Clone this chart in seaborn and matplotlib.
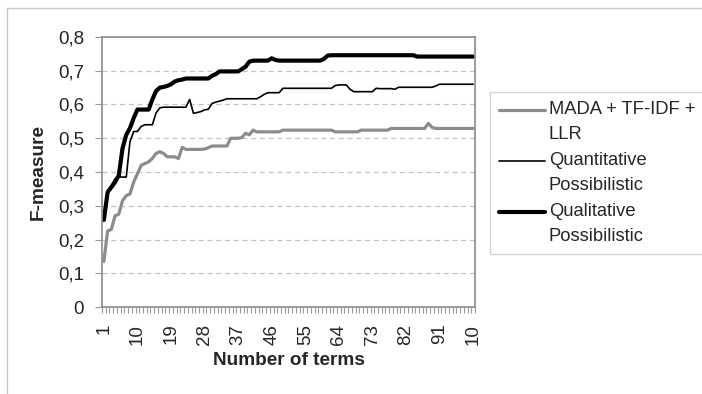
import pandas as pd
import matplotlib.pyplot as plt
import matplotlib.patches as patches
from matplotlib.ticker import FixedLocator
from matplotlib.legend_handler import HandlerLine2D
import seaborn as sns

# Data (F-measure vs number of terms, 1..100)
terms = list(range(1, 101))

mada = ([0.135, 0.225, 0.23, 0.27, 0.275, 0.315, 0.33, 0.335, 0.37, 0.395,
         0.42, 0.425, 0.43, 0.44, 0.455, 0.46, 0.455, 0.445, 0.445, 0.445,
         0.44, 0.473, 0.467, 0.467, 0.467, 0.467, 0.467, 0.468, 0.472]
        + [0.477] * 5 + [0.5] * 3 + [0.502, 0.515, 0.51, 0.524]
        + [0.519] * 7 + [0.524] * 14 + [0.519] * 7 + [0.524] * 8
        + [0.529] * 10 + [0.544, 0.532] + [0.529] * 11)

quanti = ([0.27, 0.34, 0.36, 0.38, 0.385, 0.385, 0.385, 0.49, 0.52, 0.52,
           0.535, 0.54, 0.54, 0.54, 0.575, 0.59]
          + [0.592] * 7 + [0.615, 0.574, 0.576, 0.579, 0.584, 0.586,
                           0.603, 0.607, 0.61, 0.613]
          + [0.617] * 9 + [0.623, 0.63, 0.635, 0.635, 0.635, 0.635]
          + [0.648] * 14 + [0.656, 0.658, 0.658, 0.658, 0.645]
          + [0.638] * 6 + [0.648, 0.647, 0.647, 0.647, 0.647, 0.645]
          + [0.651] * 10 + [0.655] + [0.66] * 10)

quali = ([0.258, 0.34, 0.355, 0.37, 0.39, 0.47, 0.51, 0.53, 0.56, 0.585,
          0.585, 0.585, 0.585, 0.615, 0.64, 0.65, 0.652, 0.655, 0.66, 0.668,
          0.672, 0.674]
         + [0.677] * 7 + [0.685, 0.69] + [0.698] * 6 + [0.705, 0.712, 0.727]
         + [0.73] * 5 + [0.737, 0.732] + [0.73] * 12 + [0.735, 0.745]
         + [0.746] * 23 + [0.742] * 16)

labels = ["MADA + TF-IDF +\nLLR", "Quantitative\nPossibilistic",
          "Qualitative\nPossibilistic"]
x_tick_pos = [1, 10, 19, 28, 37, 46, 55, 64, 73, 82, 91, 100]
x_tick_labels = ["1", "10", "19", "28", "37", "46", "55", "64", "73", "82", "91", "10"]
y_ticks = [0, 0.1, 0.2, 0.3, 0.4, 0.5, 0.6, 0.7, 0.8]
y_tick_labels = ["0", "0,1", "0,2", "0,3", "0,4", "0,5", "0,6", "0,7", "0,8"]

df = pd.DataFrame({"terms": terms, "mada": mada, "quanti": quanti, "quali": quali})


class FirstLineHandler(HandlerLine2D):
    # put the legend line next to the first line of a two-line label
    def create_artists(self, legend, orig_handle, xdescent, ydescent,
                       width, height, fontsize, trans):
        arts = super().create_artists(legend, orig_handle, xdescent, ydescent,
                                      width, height, fontsize, trans)
        for a in arts:
            a.set_ydata([y + 0.66 * fontsize for y in a.get_ydata()])
        return arts


sns.set_theme(style="white")
plt.rcParams["font.family"] = ["Liberation Sans", "DejaVu Sans"]

fig = plt.figure(figsize=(7.02, 3.94), dpi=100)
ax = fig.add_axes([0.1453, 0.2208, 0.5313, 0.6853])

sns.lineplot(data=df, x="terms", y="mada", ax=ax, color="#8c8c8c", lw=2.3, label=labels[0])
sns.lineplot(data=df, x="terms", y="quanti", ax=ax, color="black", lw=1.2, label=labels[1])
sns.lineplot(data=df, x="terms", y="quali", ax=ax, color="black", lw=3.0, label=labels[2])

ax.set_xlim(0.5, 100.5)
ax.set_ylim(0, 0.8)

for y in y_ticks[1:-1]:
    ax.axhline(y, color="#c4c4c4", lw=0.9, ls=(0, (4, 3)), zorder=0)

ax.set_yticks(y_ticks)
ax.set_yticklabels(y_tick_labels, fontsize=13.5)
ax.set_xticks(x_tick_pos)
ax.set_xticklabels(x_tick_labels, fontsize=13.5, rotation=90)
ax.xaxis.set_minor_locator(FixedLocator([i + 0.5 for i in range(0, 101)]))
ax.tick_params(axis="x", which="major", length=0, pad=12)
ax.tick_params(axis="x", which="minor", bottom=True, length=4, color="#999999", width=0.8)
ax.tick_params(axis="y", which="major", left=True, length=5, color="#999999", width=0.8, pad=8)

for s in ax.spines.values():
    s.set_color("#8a8a8a")
    s.set_linewidth(1.2)

ax.set_xlabel("Number of terms", fontsize=13.7, fontweight="bold", labelpad=5)
ax.set_ylabel("F-measure", fontsize=13.7, fontweight="bold", labelpad=8)

handles, _ = ax.get_legend_handles_labels()
leg = ax.legend(handles, labels, loc="upper left",
                bbox_to_anchor=(490 / 702, 1 - 92 / 394),
                bbox_transform=fig.transFigure, fontsize=13.2, frameon=True,
                fancybox=False, handlelength=2.5, handletextpad=0.2,
                borderpad=0.5, labelspacing=0.5, borderaxespad=0,
                handler_map={h: FirstLineHandler() for h in handles})
for t in leg.get_texts():
    t.set_linespacing(1.6)
leg.get_frame().set_edgecolor("#c8c8c8")
leg.get_frame().set_linewidth(1.0)

border = patches.Rectangle((7 / 702, -0.2), 1.2, 1.2 - 8 / 394, transform=fig.transFigure,
                           fill=False, edgecolor="#c8c8c8", lw=1.0, clip_on=False)
fig.patches.append(border)

fig.savefig("out.png", dpi=100)
